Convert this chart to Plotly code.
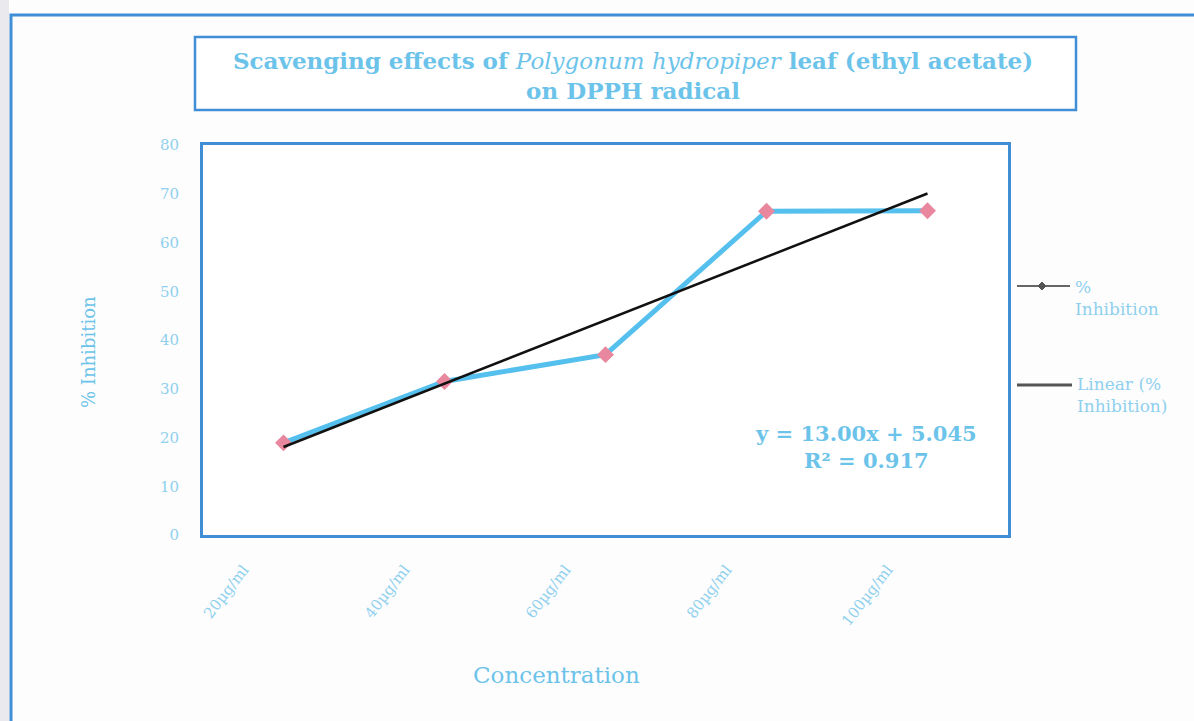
import plotly.graph_objects as go

# Figure size in pixels
W, H = 1194, 721

# Data
concentrations = ["20µg/ml", "40µg/ml", "60µg/ml", "80µg/ml", "100µg/ml"]
inhibition = [18.9, 31.5, 37.0, 66.4, 66.5]
y_ticks = [0, 10, 20, 30, 40, 50, 60, 70, 80]

# Linear trendline parameters (x = category index 1..n)
trend_slope = 13.00
trend_intercept = 5.045
r_squared = 0.917
trend_values = [trend_slope * (i + 1) + trend_intercept for i in range(len(concentrations))]

# Colours
FRAME_BLUE = "#3f8ed6"
SERIES_BLUE = "#55c0ee"
MARKER_PINK = "#e8879d"
TEXT_BLUE = "#6cc3ea"
TICK_BLUE = "#8fd0ee"
SERIF = "DejaVu Serif"


def px(x):
    return x / W


def py(y):
    return 1 - y / H


fig = go.Figure()

fig.add_trace(go.Scatter(
    x=concentrations, y=inhibition, mode="lines+markers",
    line=dict(color=SERIES_BLUE, width=5),
    marker=dict(symbol="diamond", size=13, color=MARKER_PINK),
    name="% Inhibition", showlegend=False,
))
fig.add_trace(go.Scatter(
    x=concentrations, y=trend_values, mode="lines",
    line=dict(color="#111111", width=2.5),
    name="Linear (% Inhibition)", showlegend=False,
))

fig.update_xaxes(
    type="category", range=[-0.5, len(concentrations) - 0.5],
    domain=[px(203), px(1008)], anchor="y",
    showline=True, mirror=True, linecolor=FRAME_BLUE, linewidth=3,
    showgrid=False, zeroline=False, ticks="",
    tickangle=-52, ticklabelshift=-40, ticklabelstandoff=17,
    tickfont=dict(family=SERIF, size=15, color=TICK_BLUE),
    automargin=False,
)
fig.update_yaxes(
    range=[0, 80], domain=[py(535), py(145)], anchor="x",
    tickmode="array", tickvals=y_ticks, ticktext=[str(v) for v in y_ticks],
    showline=True, mirror=True, linecolor=FRAME_BLUE, linewidth=3,
    showgrid=False, zeroline=False, ticks="", ticklabelstandoff=18,
    tickfont=dict(family=SERIF, size=15, color=TICK_BLUE),
    automargin=False,
)

shapes = [
    # light strip at the far left
    dict(type="rect", xref="paper", yref="paper", x0=0, x1=px(9), y0=0, y1=1,
         fillcolor="#e9e9ee", line=dict(width=0), layer="below"),
    # outer chart frame
    dict(type="rect", xref="paper", yref="paper", x0=px(11), x1=px(1210), y0=py(735), y1=py(15),
         line=dict(color=FRAME_BLUE, width=3), fillcolor="rgba(0,0,0,0)"),
    # title box
    dict(type="rect", xref="paper", yref="paper", x0=px(195), x1=px(1076), y0=py(110), y1=py(37),
         line=dict(color=FRAME_BLUE, width=2.5), fillcolor="white"),
    # legend symbols
    dict(type="line", xref="paper", yref="paper", x0=px(1017), x1=px(1070), y0=py(286), y1=py(286),
         line=dict(color="#666666", width=2)),
    dict(type="path", xref="paper", yref="paper",
         path=f"M {px(1042)} {py(282)} L {px(1046)} {py(286)} L {px(1042)} {py(290)} L {px(1038)} {py(286)} Z",
         fillcolor="#555555", line=dict(color="#555555", width=1)),
    dict(type="line", xref="paper", yref="paper", x0=px(1017), x1=px(1072), y0=py(385), y1=py(385),
         line=dict(color="#555555", width=3)),
]

annotations = [
    dict(text="<b>Scavenging effects of </b><i>Polygonum hydropiper</i><b> leaf (ethyl acetate)<br>on DPPH radical</b>",
         x=px(633), y=py(76), xref="paper", yref="paper", showarrow=False,
         xanchor="center", yanchor="middle", align="center",
         font=dict(family=SERIF, size=23, color=TEXT_BLUE)),
    dict(text="% Inhibition", x=px(88), y=py(352), xref="paper", yref="paper",
         showarrow=False, textangle=-90, xanchor="center", yanchor="middle",
         font=dict(family=SERIF, size=18, color=TEXT_BLUE)),
    dict(text="Concentration", x=px(556), y=py(675), xref="paper", yref="paper",
         showarrow=False, xanchor="center", yanchor="middle",
         font=dict(family=SERIF, size=23, color=TEXT_BLUE)),
    dict(text=f"<b>y = {trend_slope:.2f}x + {trend_intercept}<br>R² = {r_squared}</b>",
         x=px(866), y=py(447), xref="paper", yref="paper", showarrow=False,
         xanchor="center", yanchor="middle", align="center",
         font=dict(family=SERIF, size=21, color=TEXT_BLUE)),
    dict(text="%<br>Inhibition", x=px(1073), y=py(275), xref="paper", yref="paper",
         showarrow=False, xanchor="left", yanchor="top", align="left",
         font=dict(family=SERIF, size=17, color=TICK_BLUE)),
    dict(text="Linear (%<br>Inhibition)", x=px(1075), y=py(372), xref="paper", yref="paper",
         showarrow=False, xanchor="left", yanchor="top", align="left",
         font=dict(family=SERIF, size=17, color=TICK_BLUE)),
]

fig.update_layout(
    width=W, height=H, autosize=False,
    margin=dict(l=0, r=0, t=0, b=0),
    template="none",
    paper_bgcolor="#fdfdfd", plot_bgcolor="white",
    showlegend=False,
    shapes=shapes, annotations=annotations,
)

fig.write_html("out.html")
